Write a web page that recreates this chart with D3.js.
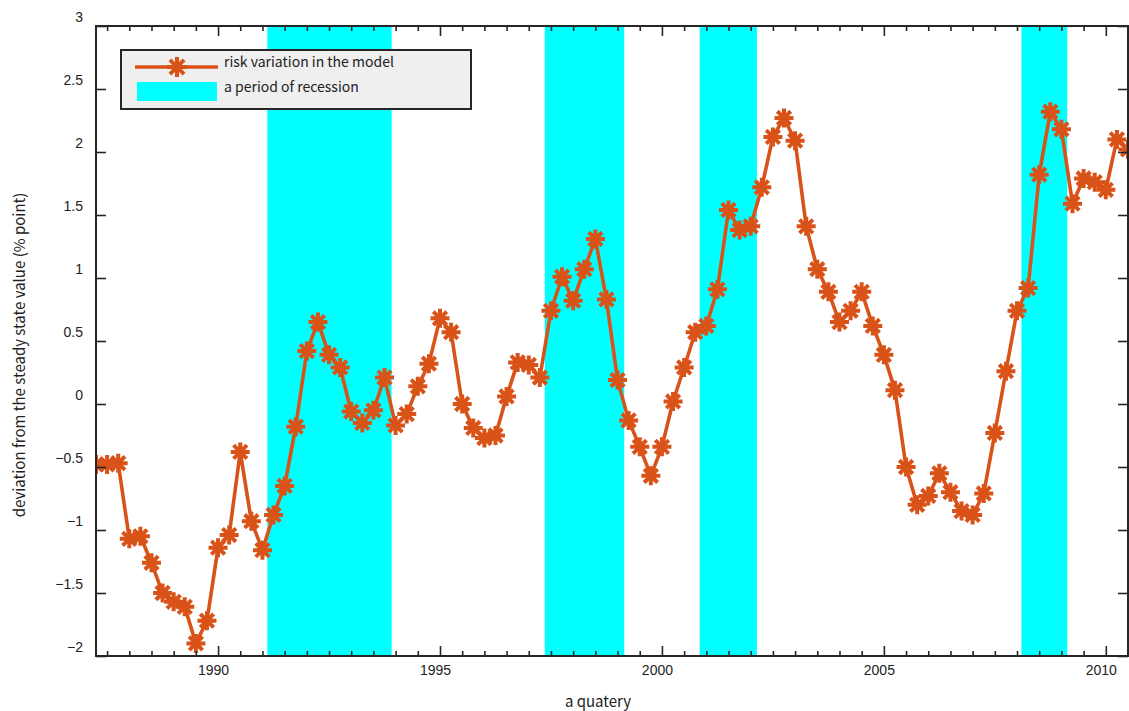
<!DOCTYPE html>
<html>
<head>
<meta charset="utf-8">
<script src="https://cdn.jsdelivr.net/npm/d3@7"></script>
<style>
  body { margin: 0; background: #fff; }
  svg { display: block; font-family: "Noto Sans CJK JP", "DejaVu Sans", sans-serif; }
</style>
</head>
<body>
<svg width="1129" height="711"></svg>
<script>
// quarters 1987Q2 .. 2010Q3, stored as year + (q-1)/4
var quarterStart = 1987.25
var riskValues = [
  -0.48, -0.48, -0.47, -1.07, -1.05, -1.26, -1.50, -1.57, -1.61, -1.90, -1.72,
  -1.14, -1.04, -0.38, -0.93, -1.16, -0.88, -0.65, -0.18, 0.42, 0.65, 0.39,
  0.29, -0.06, -0.15, -0.05, 0.21, -0.17, -0.08, 0.14, 0.32, 0.68, 0.57,
  0.00, -0.19, -0.27, -0.25, 0.06, 0.33, 0.31, 0.21, 0.74, 1.01, 0.82,
  1.07, 1.31, 0.83, 0.19, -0.13, -0.34, -0.57, -0.34, 0.02, 0.29, 0.57,
  0.62, 0.91, 1.54, 1.38, 1.41, 1.72, 2.12, 2.27, 2.09, 1.41, 1.07,
  0.89, 0.65, 0.74, 0.89, 0.62, 0.39, 0.11, -0.50, -0.80, -0.73, -0.55,
  -0.70, -0.85, -0.88, -0.71, -0.23, 0.26, 0.74, 0.92, 1.82, 2.32, 2.18,
  1.59, 1.79, 1.76, 1.70, 2.10, 2.02
]
var recessionStart = [1991.11, 1997.36, 2000.85, 2008.10]
var recessionEnd = [1993.91, 1999.15, 2002.14, 2009.13]
var xTickYears = [1990, 1995, 2000, 2005, 2010]
var yTickValues = [-2, -1.5, -1, -0.5, 0, 0.5, 1, 1.5, 2, 2.5, 3]
var legendLabels = ['risk variation in the model', 'a period of recession']

;(function (d3) {
  var svg = d3.select('svg')

  var left = 96
  var right = 1128
  var top = 26
  var bottom = 656
  var orange = '#d95319'
  var axisColor = '#262626'

  var data = riskValues.map(function (v, i) {
    return {t: quarterStart + i * 0.25, v: v}
  })

  var x = d3.scaleLinear()
    .domain([1987.25, 2010.5])
    .range([left, right])

  var y = d3.scaleLinear()
    .domain([-2, 3])
    .range([bottom, top])

  svg.append('clipPath')
    .attr('id', 'plot')
    .append('rect')
    .attr('x', left)
    .attr('y', top)
    .attr('width', right - left)
    .attr('height', bottom - top)

  // recession bands
  svg.append('g')
    .selectAll('rect')
    .data(recessionStart)
    .enter()
    .append('rect')
    .attr('x', function (d) { return x(d) })
    .attr('width', function (d, i) { return x(recessionEnd[i]) - x(d) })
    .attr('y', top + 1)
    .attr('height', bottom - top - 1)
    .style('fill', '#00ffff')

  // asterisk marker path (8 arms)
  function star (r) {
    var p = ''
    for (var k = 0; k < 4; k++) {
      var a = k * Math.PI / 4
      var dx = r * Math.cos(a)
      var dy = r * Math.sin(a)
      p += 'M' + (-dx) + ',' + (-dy) + 'L' + dx + ',' + dy
    }
    return p
  }

  var plot = svg.append('g').attr('clip-path', 'url(#plot)')

  var ln = d3.line()
    .x(function (d) { return x(d.t) })
    .y(function (d) { return y(d.v) })

  plot.append('path')
    .datum(data)
    .attr('d', ln)
    .style('fill', 'none')
    .style('stroke', orange)
    .style('stroke-width', 3.6)
    .style('stroke-linejoin', 'round')

  plot.selectAll('.mk')
    .data(data)
    .enter()
    .append('path')
    .attr('class', 'mk')
    .attr('transform', function (d) { return 'translate(' + x(d.t) + ',' + y(d.v) + ')' })
    .attr('d', star(9.5))
    .style('stroke', orange)
    .style('stroke-width', 4)

  // axes
  var minorX = d3.range(1987.5, 2010.51, 0.5).filter(function (d) { return d % 5 !== 0 })

  function styleAxis (g) {
    g.select('.domain').remove()
    g.selectAll('line').style('stroke', axisColor).style('stroke-width', 1.6)
    g.selectAll('text').style('fill', '#222').style('font-size', '14px')
  }

  svg.append('g')
    .attr('transform', 'translate(0,' + bottom + ')')
    .call(d3.axisBottom(x).tickValues(xTickYears).tickSize(-10).tickPadding(9).tickFormat(d3.format('d')))
    .call(styleAxis)
    .selectAll('text').attr('dx', -5)

  svg.append('g')
    .attr('transform', 'translate(0,' + bottom + ')')
    .call(d3.axisBottom(x).tickValues(minorX).tickSize(-5).tickFormat(''))
    .call(styleAxis)

  svg.append('g')
    .attr('transform', 'translate(0,' + top + ')')
    .call(d3.axisTop(x).tickValues(xTickYears).tickSize(-10).tickFormat(''))
    .call(styleAxis)

  svg.append('g')
    .attr('transform', 'translate(0,' + top + ')')
    .call(d3.axisTop(x).tickValues(minorX).tickSize(-5).tickFormat(''))
    .call(styleAxis)

  svg.append('g')
    .attr('transform', 'translate(' + left + ',0)')
    .call(d3.axisLeft(y).tickValues(yTickValues).tickSize(-10).tickPadding(13)
      .tickFormat(function (d) { return d < 0 ? '\u2212' + Math.abs(d) : String(d) }))
    .call(styleAxis)
    .selectAll('text').attr('dy', '-0.3em')

  svg.append('g')
    .attr('transform', 'translate(' + right + ',0)')
    .call(d3.axisRight(y).tickValues(yTickValues).tickSize(-10).tickFormat(''))
    .call(styleAxis)

  // frame
  svg.append('path')
    .attr('d', 'M' + left + ',' + top + 'H' + right + 'V' + bottom + 'H' + left + 'Z')
    .style('fill', 'none')
    .style('stroke', axisColor)
    .style('stroke-width', 2)

  // axis titles
  svg.append('text')
    .attr('x', 598)
    .attr('y', 707)
    .attr('text-anchor', 'middle')
    .style('font-size', '15px')
    .style('fill', '#222')
    .text('a quatery')

  svg.append('text')
    .attr('transform', 'translate(25,355) rotate(-90)')
    .attr('text-anchor', 'middle')
    .style('font-size', '15px')
    .style('fill', '#222')
    .text('deviation from the steady state value (% point)')

  // legend
  var lg = svg.append('g')
  lg.append('rect')
    .attr('x', 121)
    .attr('y', 50)
    .attr('width', 350)
    .attr('height', 59)
    .style('fill', '#efefef')
    .style('stroke', axisColor)
    .style('stroke-width', 2)
  lg.append('line')
    .attr('x1', 135).attr('x2', 218)
    .attr('y1', 67).attr('y2', 67)
    .style('stroke', orange)
    .style('stroke-width', 3.6)
  lg.append('path')
    .attr('transform', 'translate(177,67)')
    .attr('d', star(10))
    .style('stroke', orange)
    .style('stroke-width', 4)
  lg.append('rect')
    .attr('x', 137)
    .attr('y', 82)
    .attr('width', 80)
    .attr('height', 19)
    .style('fill', '#00ffff')
  lg.selectAll('text')
    .data(legendLabels)
    .enter()
    .append('text')
    .attr('x', 224)
    .attr('y', function (d, i) { return 62 + i * 25 })
    .attr('dy', '0.35em')
    .style('font-size', '14px')
    .style('fill', '#222')
    .text(function (d) { return d })
})(window.d3)
</script>
</body>
</html>
